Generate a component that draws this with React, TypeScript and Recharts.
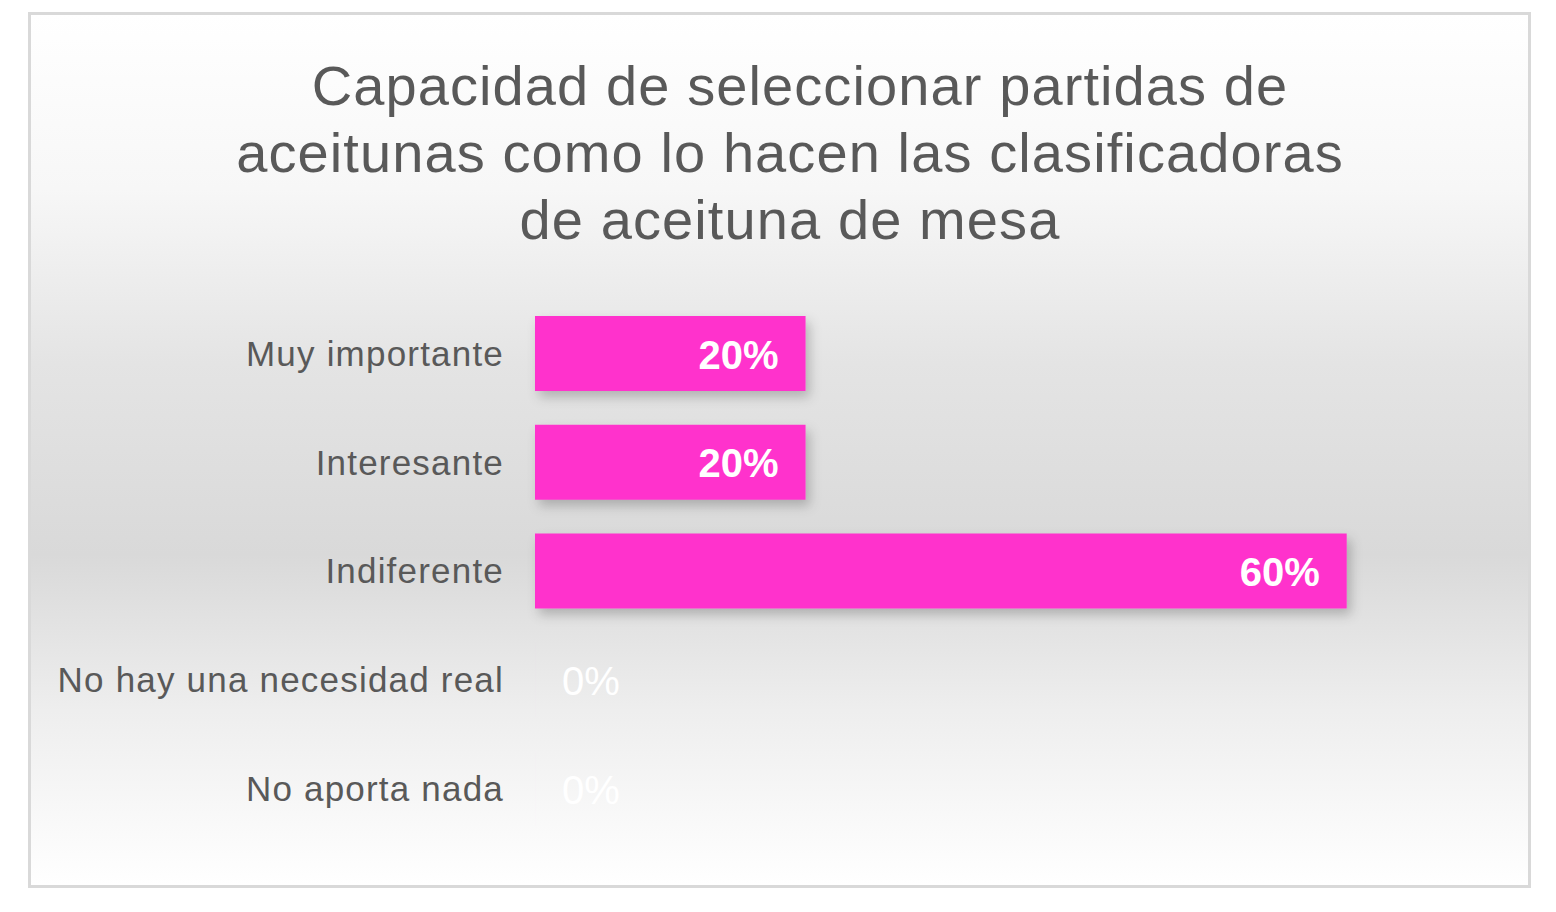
import { Bar, BarChart, XAxis, YAxis, LabelList } from "recharts"

const categories = [
  "Muy importante",
  "Interesante",
  "Indiferente",
  "No hay una necesidad real",
  "No aporta nada",
]
const values = [20, 20, 60, 0, 0]
const titleLines = [
  "Capacidad de seleccionar partidas de",
  "aceitunas como lo hacen las clasificadoras",
  "de aceituna de mesa",
]

const data = categories.map((name, i) => ({ name, value: values[i] }))

const FONT = "'Liberation Sans', Arial, sans-serif"

const ValueLabel = (props: any) => {
  const { x, y, width, height, value } = props
  const cy = y + height / 2
  if (!value) {
    return (
      <text x={x + 27} y={cy + 15} fill="#ffffff" fontSize={40} fontFamily={FONT} textAnchor="start">
        {`${value}%`}
      </text>
    )
  }
  return (
    <text
      x={x + width - 27}
      y={cy + 15}
      fill="#ffffff"
      fontSize={40}
      fontWeight="bold"
      fontFamily={FONT}
      textAnchor="end"
    >
      {`${value}%`}
    </text>
  )
}

export default function App() {
  return (
    <div style={{ position: "relative", width: 1540, height: 900, fontFamily: FONT }}>
      <div
        style={{
          position: "absolute",
          left: 20,
          top: 4,
          width: 1503,
          height: 876,
          boxSizing: "border-box",
          border: "3px solid #d9d9d9",
          background: "linear-gradient(to bottom, #ffffff 0%, #f7f7f7 20%, #e4e4e4 40%, #d9d9d9 62%, #eeeeee 80%, #ffffff 100%)",
        }}
      >
        <BarChart
          width={1497}
          height={870}
          data={data}
          layout="vertical"
          margin={{ top: 284, right: 46, bottom: 42, left: 0 }}
        >
          <defs>
            <filter id="barShadow" x="-10%" y="-30%" width="130%" height="180%">
              <feDropShadow dx={4} dy={6} stdDeviation={6} floodColor="#000" floodOpacity={0.22} />
            </filter>
          </defs>
          <XAxis type="number" domain={[0, 70]} hide />
          <YAxis
            type="category"
            dataKey="name"
            width={504}
            axisLine={false}
            tickLine={false}
            tickMargin={25}
            tick={{ fill: "#595959", fontSize: 35, fontFamily: FONT, letterSpacing: 1.2 }}
          />
          <Bar
            dataKey="value"
            fill="#ff33cc"
            barSize={75}
            minPointSize={0.01}
            isAnimationActive={false}
            filter="url(#barShadow)"
          >
            <LabelList dataKey="value" content={ValueLabel} />
          </Bar>
        </BarChart>
      </div>
      <div
        style={{
          position: "absolute",
          left: 182,
          top: 44,
          width: 1200,
          textAlign: "center",
          color: "#595959",
          fontSize: 56,
          lineHeight: "67px",
          letterSpacing: 1.1,
        }}
      >
        {titleLines.map((l, i) => (
          <div key={l} style={{ paddingLeft: i === 0 ? 20 : 0 }}>
            {l}
          </div>
        ))}
      </div>
    </div>
  )
}
